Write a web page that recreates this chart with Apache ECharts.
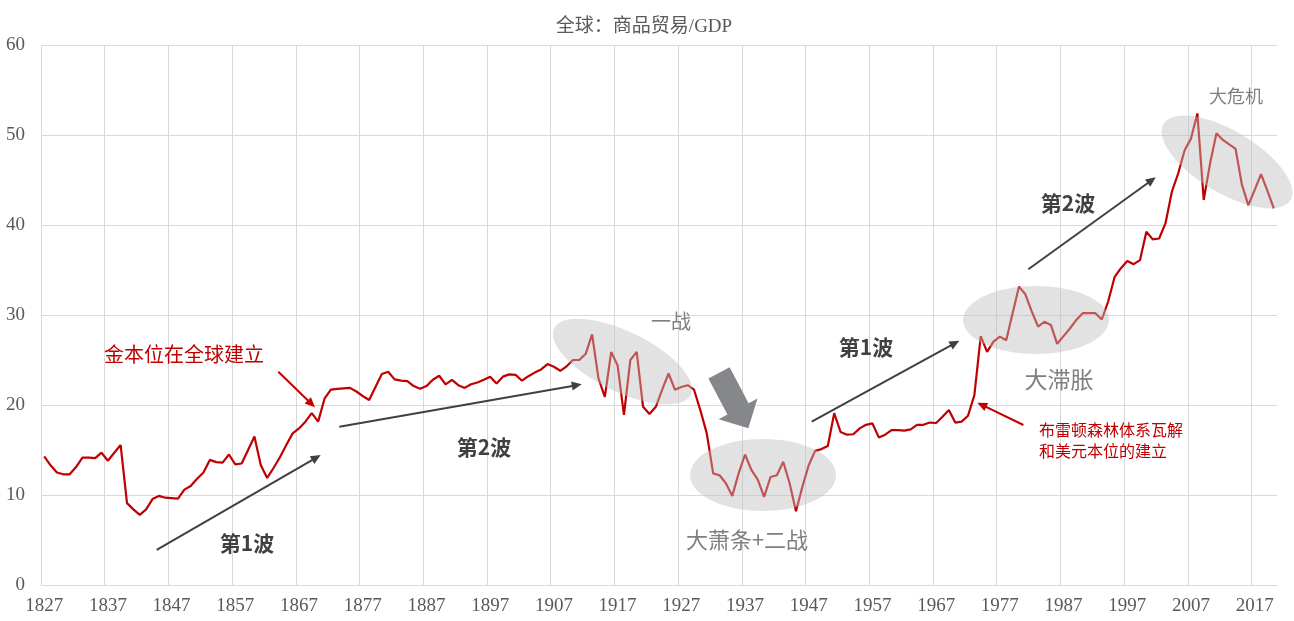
<!DOCTYPE html>
<html>
<head>
<meta charset="utf-8">
<script src="https://cdn.jsdelivr.net/npm/echarts@6/dist/echarts.min.js"></script>
<style>
  html, body { margin: 0; padding: 0; background: #fff; }
  #chart { width: 1294px; height: 621px; }
</style>
</head>
<body>
<div id="chart"></div>
<script>
// 年份 1827-2020
const years = [];
for (let y = 1827; y <= 2020; y++) years.push(String(y));

// 全球商品贸易/GDP (%)，按年份
const tradeGdp = [
  14.3, 13.3, 12.5, 12.3, 12.3, 13.1, 14.15, 14.15, 14.1, 14.7,     // 1827-1836
  13.8, 14.7, 15.55, 9.1, 8.4, 7.8, 8.4, 9.55, 9.9, 9.7,             // 1837-1846
  9.65, 9.6, 10.6, 11.0, 11.8, 12.5, 13.9, 13.65, 13.6, 14.5,        // 1847-1856
  13.4, 13.5, 15.0, 16.5, 13.3, 11.9, 13.0, 14.2, 15.55, 16.85,      // 1857-1866
  17.4, 18.15, 19.1, 18.15, 20.7, 21.7, 21.8, 21.85, 21.9, 21.5,     // 1867-1876
  21.0, 20.55, 22.0, 23.45, 23.7, 22.85, 22.7, 22.65, 22.1, 21.8,    // 1877-1886
  22.1, 22.8, 23.25, 22.3, 22.8, 22.2, 21.9, 22.3, 22.5, 22.8,       // 1887-1896
  23.15, 22.4, 23.15, 23.4, 23.35, 22.7, 23.2, 23.6, 23.95, 24.55,   // 1897-1906
  24.25, 23.8, 24.3, 25.0, 25.0, 25.7, 27.85, 22.95, 20.9, 25.9,     // 1907-1916
  24.4, 18.9, 25.0, 25.9, 19.8, 19.0, 19.8, 21.7, 23.5, 21.7,        // 1917-1926
  22.0, 22.2, 21.7, 19.4, 16.85, 12.4, 12.2, 11.3, 9.9, 12.4,        // 1927-1936
  14.5, 12.8, 11.7, 9.8, 12.0, 12.2, 13.7, 11.3, 8.2, 10.9,          // 1937-1946
  13.3, 14.9, 15.1, 15.45, 19.1, 17.0, 16.7, 16.75, 17.4, 17.8,      // 1947-1956
  17.95, 16.4, 16.7, 17.2, 17.2, 17.15, 17.3, 17.8, 17.8, 18.05,     // 1957-1966
  18.0, 18.7, 19.45, 18.05, 18.15, 18.8, 21.1, 27.65, 25.9, 27.05,   // 1967-1976
  27.6, 27.2, 30.2, 33.15, 32.3, 30.4, 28.7, 29.25, 28.9, 26.8,      // 1977-1986
  27.65, 28.5, 29.45, 30.2, 30.2, 30.2, 29.5, 31.5, 34.2, 35.2,      // 1987-1996
  36.0, 35.65, 36.1, 39.25, 38.4, 38.5, 40.2, 43.7, 45.75, 48.3,     // 1997-2006
  49.6, 52.4, 42.8, 46.85, 50.2, 49.45, 48.95, 48.45, 44.45, 42.2,   // 2007-2016
  43.9, 45.65, 43.8, 41.85                                           // 2017-2020
];

// 注释：椭圆 [中心年份, 中心值, rx, ry, 倾角(度)]
const ellipses = [
  [1917.77, 24.83, 76, 30, 26],
  [1939.83, 12.22, 73, 36, 0],
  [1982.68, 29.44, 73, 34, 0],
  [2012.66, 47.0, 74, 31, 31]
];
// 灰色箭头 [起点年份, 起点值, 终点年份, 终点值]
const waveArrows = [
  [1844.66, 3.89, 1870.4, 14.44],
  [1873.32, 17.59, 1911.37, 22.3],
  [1947.47, 18.14, 1970.64, 27.14],
  [1981.47, 35.08, 2001.47, 45.3]
];
// 红色箭头
const redArrows = [
  [1863.75, 23.7, 1869.5, 19.74],
  [1980.69, 17.78, 1973.46, 20.26]
];
// 粗箭头（一战 -> 大萧条）
const blockArrow = [1932.92, 23.56, 1937.52, 17.41];
// 文字 [文本, 年份, 值, 字号, 颜色, 粗体, 对齐]
const labels = [
  ['金本位在全球建立', 1848.94, 25.67, 20, '#C00000', false, 'center'],
  ['第1波', 1858.83, 4.67, 21, '#404040', true, 'center'],
  ['第2波', 1896.03, 15.33, 21, '#404040', true, 'center'],
  ['一战', 1925.38, 29.33, 20, '#7f7f7f', false, 'center'],
  ['大萧条+二战', 1937.31, 5.0, 22, '#7f7f7f', false, 'center'],
  ['第1波', 1955.99, 26.44, 21, '#404040', true, 'center'],
  ['大滞胀', 1986.29, 22.89, 23, '#7f7f7f', false, 'center'],
  ['第2波', 1987.7, 42.44, 21, '#404040', true, 'center'],
  ['大危机', 2014.07, 54.33, 18, '#7f7f7f', false, 'center'],
  ['布雷顿森林体系瓦解\n和美元本位的建立', 1983.15, 16.06, 16, '#C00000', false, 'left']
];

const CJK = '"Noto Sans CJK SC"';
const chart = echarts.init(document.getElementById('chart'));

chart.setOption({
  animation: false,
  title: {
    text: '全球：商品贸易/GDP',
    left: 639,
    top: 13,
    textAlign: 'center',
    textStyle: {
      color: '#595959',
      fontSize: 19,
      fontWeight: 'normal',
      fontFamily: '"Liberation Serif", ' + CJK
    }
  },
  grid: { left: 41, right: 17, top: 45, bottom: 36, containLabel: false },
  xAxis: {
    type: 'category',
    data: years,
    boundaryGap: true,
    axisLine: { lineStyle: { color: '#d9d9d9' } },
    axisTick: { show: false },
    axisLabel: {
      interval: 9,
      margin: 12,
      color: '#595959',
      fontSize: 19,
      fontFamily: '"Liberation Serif"'
    },
    splitLine: {
      show: true,
      interval: 9,
      showMaxLine: false,
      lineStyle: { color: '#d9d9d9', width: 1 }
    }
  },
  yAxis: {
    type: 'value',
    min: 0,
    max: 60,
    interval: 10,
    axisLine: { show: false },
    axisTick: { show: false },
    axisLabel: {
      margin: 16,
      color: '#595959',
      fontSize: 19,
      fontFamily: '"Liberation Serif"'
    },
    splitLine: { lineStyle: { color: '#d9d9d9', width: 1 } }
  },
  series: [
    {
      type: 'line',
      data: tradeGdp,
      symbol: 'none',
      lineStyle: { color: '#C00000', width: 2.2 }
    }
  ]
});

// 年份(可带小数)+数值 -> 像素
const toPx = (year, value) => {
  const a = chart.convertToPixel({ gridIndex: 0 }, [0, value]);
  const b = chart.convertToPixel({ gridIndex: 0 }, [1, value]);
  return [a[0] + (year - 1827) * (b[0] - a[0]), a[1]];
};

const arrowGraphic = (p0, p1, color, width, headLen, headW) => {
  const dx = p1[0] - p0[0], dy = p1[1] - p0[1];
  const len = Math.sqrt(dx * dx + dy * dy);
  const ux = dx / len, uy = dy / len;
  const nx = -uy, ny = ux;
  const bx = p1[0] - ux * headLen, by = p1[1] - uy * headLen;
  return [
    {
      type: 'line', z: 110,
      shape: { x1: p0[0], y1: p0[1], x2: bx + ux * 2, y2: by + uy * 2 },
      style: { stroke: color, lineWidth: width }
    },
    {
      type: 'polygon', z: 110,
      shape: { points: [[p1[0], p1[1]], [bx + nx * headW / 2, by + ny * headW / 2], [bx - nx * headW / 2, by - ny * headW / 2]] },
      style: { fill: color }
    }
  ];
};

const graphics = [];

ellipses.forEach(([yr, v, rx, ry, deg]) => {
  const p = toPx(yr, v);
  graphics.push({
    type: 'ellipse', z: 100,
    x: p[0], y: p[1],
    rotation: -deg * Math.PI / 180,
    shape: { cx: 0, cy: 0, rx: rx, ry: ry },
    style: { fill: 'rgba(190,190,190,0.45)' }
  });
});

waveArrows.forEach(a => {
  graphics.push(...arrowGraphic(toPx(a[0], a[1]), toPx(a[2], a[3]), '#404040', 2, 10, 9));
});
redArrows.forEach(a => {
  graphics.push(...arrowGraphic(toPx(a[0], a[1]), toPx(a[2], a[3]), '#C00000', 2, 10, 9));
});

// 粗箭头
(() => {
  const t = toPx(blockArrow[0], blockArrow[1]);
  const h = toPx(blockArrow[2], blockArrow[3]);
  const dx = h[0] - t[0], dy = h[1] - t[1];
  const len = Math.sqrt(dx * dx + dy * dy);
  const ux = dx / len, uy = dy / len;
  const nx = -uy, ny = ux;
  const sw = 12, hw = 22, hl = 22;
  const bx = h[0] - ux * hl, by = h[1] - uy * hl;
  graphics.push({
    type: 'polygon', z: 105,
    shape: {
      points: [
        [t[0] + nx * sw, t[1] + ny * sw],
        [bx + nx * sw, by + ny * sw],
        [bx + nx * hw, by + ny * hw],
        [h[0], h[1]],
        [bx - nx * hw, by - ny * hw],
        [bx - nx * sw, by - ny * sw],
        [t[0] - nx * sw, t[1] - ny * sw]
      ]
    },
    style: { fill: '#85878a' }
  });
})();

labels.forEach(([txt, yr, v, size, color, bold, align]) => {
  const p = toPx(yr, v);
  graphics.push({
    type: 'text', z: 120,
    style: {
      text: txt,
      x: p[0], y: p[1],
      fill: color,
      font: (bold ? 'bold ' : '') + size + 'px ' + CJK,
      align: align,
      verticalAlign: 'middle',
      lineHeight: size + 5
    }
  });
});

chart.setOption({ graphic: graphics });

window.onresize = () => {
  chart.resize();
};
</script>
</body>
</html>
